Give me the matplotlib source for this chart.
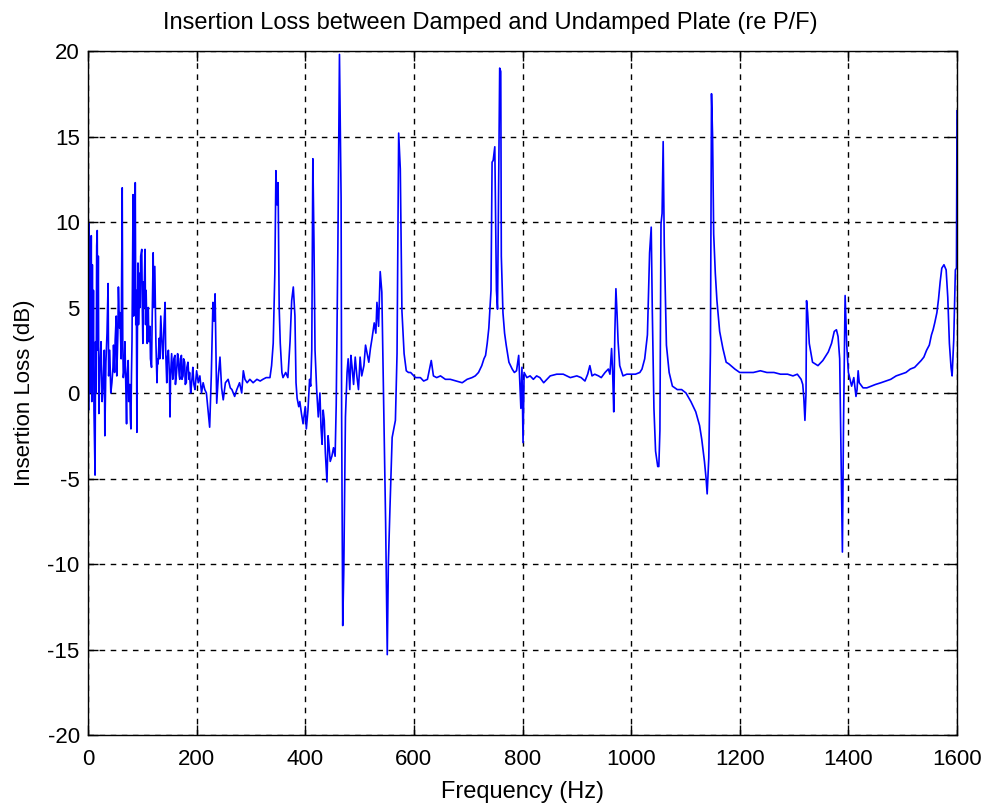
import numpy as np
import matplotlib
matplotlib.use('Agg')
import matplotlib.pyplot as plt

# (frequency Hz, insertion loss dB), split by band
band_0_200 = [
    (0, 17.4), (1, -1.0), (2, 9.9), (3, 0.0), (4, 8.8), (5, 1.5), (6, 9.2),
    (7, -0.5), (8, 7.5), (9, 0.8), (10, 6.0), (11, -1.0), (13, -4.8),
    (14, 3.0), (15, 0.0), (16, 8.6), (17, 9.5), (18, 2.5), (19, 8.0),
    (20, -1.2), (22, 1.5), (24, 3.0), (26, -0.5), (28, 0.6), (30, 2.5),
    (31, -2.5), (33, 1.8), (35, 3.5), (37, 6.4), (38, 1.0), (40, 2.5),
    (42, 0.0), (44, 0.6), (46, 1.5), (47, 2.8), (49, 1.2), (50, 3.1),
    (52, 4.5), (53, 1.0), (55, 3.5), (56, 6.2), (58, 3.8), (59, 4.7),
    (61, 2.0), (63, 12.0), (64, 3.0), (65, 0.9), (67, 1.5), (68, 3.0),
    (70, 0.0), (71, -1.8), (72, 1.0), (74, 1.9), (75, -0.5), (77, 0.5),
    (78, -1.5), (79, -2.1), (80, 1.0), (81, 3.0), (82, 7.0), (83, 11.6),
    (84, 4.5), (85, 8.0), (86, 5.0), (87, 12.3), (88, 4.0), (89, 6.0),
    (90, -2.3), (91, 3.5), (92, 7.6), (93, 4.0), (95, 7.0), (96, 5.0),
    (97, 8.0), (99, 8.4), (100, 5.0), (101, 2.9), (102, 6.5), (103, 5.0),
    (105, 8.4), (106, 4.0), (107, 6.0), (109, 2.9), (110, 4.5), (111, 5.0),
    (112, 3.0), (114, 3.9), (115, 2.0), (117, 1.5), (118, 4.0), (120, 8.2),
    (121, 5.0), (123, 7.4), (125, 3.0), (127, 0.6), (128, 2.0), (129, 1.7),
    (131, 3.2), (132, 2.0), (134, 4.5), (136, 3.0), (138, 2.0), (140, 4.0),
    (142, 5.3), (143, 2.5), (145, 0.6), (146, 2.0), (148, 2.5), (150, 1.0),
    (151, -1.4), (152, 1.0), (154, 2.3), (156, 0.8), (157, 1.0), (158, 2.0),
    (160, 2.2), (161, 0.5), (163, 1.2), (165, 2.3), (166, 2.0), (168, 1.0),
    (169, 0.8), (170, 2.0), (172, 2.2), (173, 0.8), (175, 1.0), (176, 2.0),
    (178, 1.8), (179, 0.5), (181, 0.6), (182, 1.5), (184, 1.8), (186, 0.8),
    (187, 1.2), (189, 0.0), (190, 0.3), (192, 1.0), (193, 1.5), (195, 0.5),
    (197, 0.2),
]

band_200_400 = [
    (200, 1.3), (203, 0.6), (206, 1.0), (209, 0.0), (212, 0.6), (215, 0.2),
    (218, 0.0), (221, -1.0), (224, -2.0), (227, 1.0), (230, 5.3), (232, 4.2),
    (234, 5.8), (237, -0.6), (240, 1.0), (243, 2.1), (246, 0.3), (249, -0.4),
    (253, 0.6), (258, 0.8), (262, 0.3), (265, 0.2), (270, -0.2), (274, 0.2),
    (279, 0.6), (283, 0.0), (286, 1.3), (289, 0.8), (293, 0.6), (298, 0.8),
    (304, 0.6), (311, 0.8), (317, 0.7), (322, 0.8), (328, 0.9), (335, 0.9),
    (338, 1.6), (341, 2.9), (344, 7.0), (346, 13.0), (348, 11.0), (350, 12.3),
    (352, 5.0), (354, 2.9), (357, 1.2), (359, 0.9), (364, 1.2), (368, 0.9),
    (372, 3.0), (375, 5.4), (378, 6.2), (381, 4.5), (383, 0.6), (385, -0.3),
    (388, -0.8), (390, -0.5), (393, -1.2), (396, -1.8),
]

band_400_600 = [
    (400, -0.8), (402, -2.1), (405, -1.0), (408, 0.8), (410, 0.4),
    (412, 2.5), (414, 13.7), (416, 9.0), (418, 2.5), (421, 0.2), (424, -1.4),
    (427, 0.0), (429, -2.0), (431, -3.0), (433, -1.0), (435, -1.6),
    (437, -3.5), (440, -5.2), (442, -2.5), (443, -2.8), (446, -4.0),
    (449, -3.7), (452, -3.2), (455, -3.7), (457, -0.7), (460, 8.3),
    (463, 19.8), (466, 11.4), (467, -1.4), (469, -13.6), (471, -10.3),
    (474, -1.4), (477, 1.2), (479, 2.0), (482, 0.2), (484, 2.2), (486, 1.6),
    (489, 0.5), (492, 2.1), (495, 1.0), (498, 0.2), (501, 2.1), (504, 1.0),
    (508, 1.6), (511, 2.8), (514, 2.3), (517, 1.8), (520, 2.6), (523, 3.2),
    (527, 4.1), (530, 3.5), (532, 5.3), (535, 3.9), (538, 7.1), (541, 5.9),
    (544, 0.2), (548, -7.6), (551, -15.3), (553, -10.0), (556, -6.7),
    (560, -2.6), (566, -1.6), (569, 2.3), (572, 15.2), (575, 13.1),
    (578, 4.8), (582, 2.3), (586, 1.3), (590, 1.2), (594, 1.2),
]

band_600_1000 = [
    (603, 0.9), (612, 0.9), (618, 0.7), (625, 0.8), (632, 1.9), (636, 1.0),
    (642, 0.9), (649, 1.0), (658, 0.8), (667, 0.8), (678, 0.7), (689, 0.6),
    (698, 0.8), (707, 0.9), (713, 1.0), (719, 1.2), (725, 1.6), (729, 2.0),
    (732, 2.2), (735, 2.9), (738, 3.8), (742, 6.0), (744, 13.5), (746, 13.6),
    (749, 14.4), (752, 6.0), (754, 4.9), (756, 12.0), (758, 19.0),
    (760, 18.8), (761, 8.0), (764, 4.7), (767, 3.5), (770, 2.8), (775, 1.8),
    (781, 1.4), (785, 1.2), (789, 1.3), (793, 2.2), (797, -0.9), (799, 1.5),
    (801, -2.9), (803, 1.2), (808, 0.9), (814, 1.0), (820, 0.8), (826, 1.0),
    (832, 0.9), (839, 0.6), (845, 0.8), (851, 1.0), (863, 1.1), (875, 1.1),
    (888, 0.9), (900, 1.0), (908, 0.9), (915, 0.7), (920, 1.1), (924, 1.6),
    (928, 1.0), (933, 1.1), (940, 1.0), (945, 0.9), (952, 1.2), (958, 1.4),
    (961, 1.1), (964, 2.6), (966, 1.2), (968, -1.1), (970, 3.5), (972, 6.1),
    (974, 4.7), (976, 3.0), (979, 1.6), (985, 1.0), (992, 1.1), (998, 1.1),
]

band_1000_1200 = [
    (1008, 1.1), (1016, 1.2), (1020, 1.4), (1025, 2.0), (1030, 3.4),
    (1034, 8.2), (1037, 9.7), (1039, 4.8), (1042, -0.9), (1045, -3.4),
    (1049, -4.3), (1051, -4.3), (1053, -2.2), (1055, 9.9), (1057, 10.5),
    (1059, 14.7), (1061, 8.7), (1065, 2.8), (1070, 1.2), (1076, 0.4),
    (1085, 0.2), (1093, 0.2), (1101, 0.0), (1110, -0.5), (1119, -1.1),
    (1126, -1.9), (1130, -2.7), (1135, -4.0), (1138, -5.0), (1140, -5.9),
    (1143, -3.8), (1146, 2.4), (1148, 17.5), (1150, 15.0), (1152, 9.3),
    (1155, 7.0), (1158, 5.4), (1163, 3.6), (1169, 2.6), (1175, 1.8),
    (1180, 1.7), (1191, 1.4), (1200, 1.2),
]

band_1200_1600 = [
    (1212, 1.2), (1225, 1.2), (1238, 1.3), (1250, 1.2), (1263, 1.2),
    (1275, 1.1), (1288, 1.1), (1298, 1.0), (1306, 1.1), (1313, 0.8),
    (1316, 0.5), (1318, -0.3), (1320, -1.6), (1322, 0.0), (1323, 5.4),
    (1325, 4.7), (1328, 2.9), (1334, 1.8), (1344, 1.6), (1353, 1.9),
    (1363, 2.4), (1369, 2.9), (1374, 3.6), (1378, 3.7), (1381, 3.3),
    (1384, 2.0), (1386, -2.5), (1389, -9.3), (1391, -2.0), (1394, 5.7),
    (1397, 2.8), (1400, 1.2), (1406, 0.4), (1410, 0.9), (1414, -0.2),
    (1416, 0.2), (1418, 1.3), (1420, 0.6), (1427, 0.3), (1434, 0.3),
    (1442, 0.4), (1450, 0.5), (1460, 0.6), (1469, 0.7), (1478, 0.8),
    (1488, 1.0), (1497, 1.1), (1506, 1.2), (1514, 1.4), (1522, 1.5),
    (1528, 1.7), (1534, 1.9), (1539, 2.1), (1544, 2.5), (1549, 2.8),
    (1553, 3.4), (1556, 3.7), (1559, 4.1), (1563, 4.7), (1566, 5.5),
    (1569, 6.5), (1572, 7.3), (1576, 7.5), (1580, 7.2), (1583, 5.6),
    (1586, 2.9), (1589, 1.5), (1591, 1.0), (1594, 3.1), (1597, 7.2),
    (1599, 7.3), (1600, 16.5),
]

x_ticks = [0, 200, 400, 600, 800, 1000, 1200, 1400, 1600]
y_ticks = [-20, -15, -10, -5, 0, 5, 10, 15, 20]

points = band_0_200 + band_200_400 + band_400_600 + band_600_1000 \
    + band_1000_1200 + band_1200_1600
freq = np.array([p[0] for p in points])
il_db = np.array([p[1] for p in points])

plt.rcParams['font.family'] = ['Liberation Sans', 'DejaVu Sans']
plt.rcParams['axes.unicode_minus'] = False

fig = plt.figure(figsize=(9.87, 8.07), dpi=100)
ax = fig.add_axes([88 / 987, 1 - 735 / 807, 869 / 987, 684 / 807])

ax.plot(freq, il_db, color='#0000ff', lw=1.2)

ax.set_xlim(0, 1600)
ax.set_ylim(-20, 20)
ax.set_xticks(x_ticks)
ax.set_yticks(y_ticks)
ax.grid(True, color='black', linestyle=(0, (4, 4)), lw=1.0)
ax.tick_params(direction='in', top=True, right=True, length=7, width=1,
               labelsize=16, pad=6)
ax.tick_params(axis='x', pad=10)
for s in ax.spines.values():
    s.set_linewidth(1.0)

ax.set_xlabel('Frequency (Hz)', fontsize=17, labelpad=8)
ax.set_ylabel('Insertion Loss (dB)', fontsize=16, labelpad=9)
ax.set_title('Insertion Loss between Damped and Undamped Plate (re P/F)',
             fontsize=17, pad=16, x=(490 - 88) / 869)

fig.savefig('out.png', dpi=100)
